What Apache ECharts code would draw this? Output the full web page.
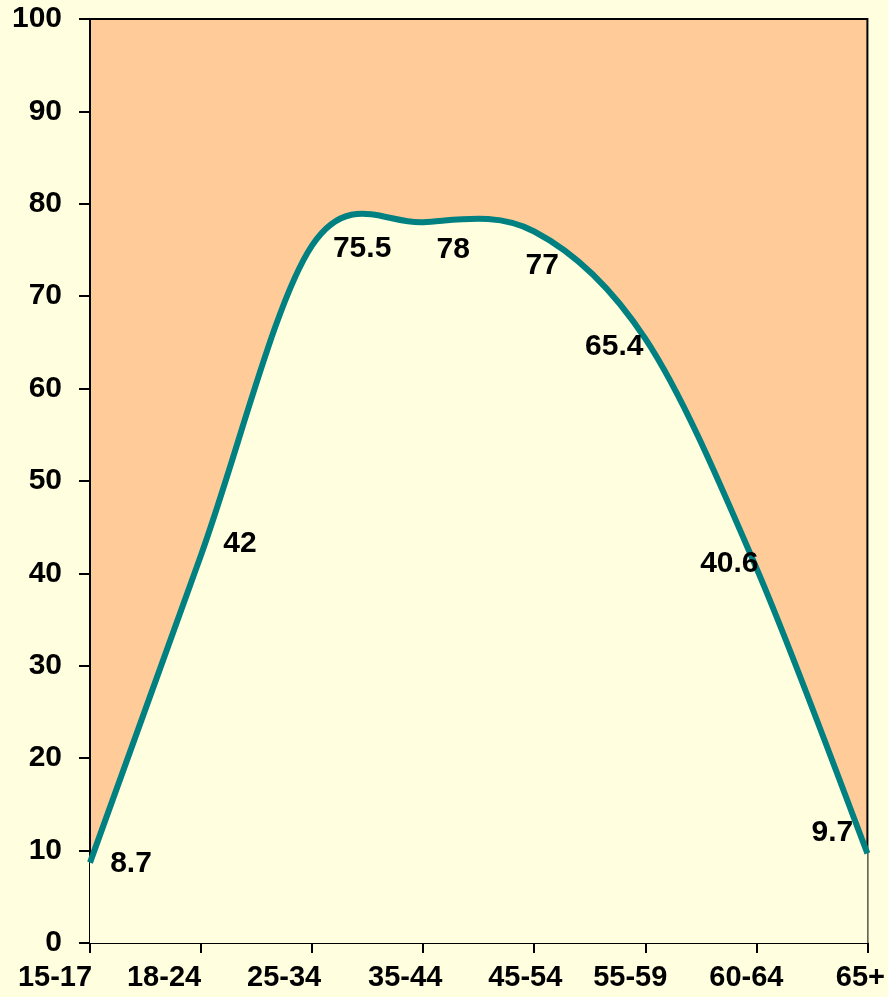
<!DOCTYPE html>
<html>
<head>
<meta charset="utf-8">
<script src="https://cdn.jsdelivr.net/npm/echarts@6/dist/echarts.min.js"></script>
<style>
  html, body { margin: 0; padding: 0; background: #FFFFE0; }
  #chart { width: 888px; height: 997px; }
</style>
</head>
<body>
<div id="chart"></div>
<script>
// Data
var categories = ['15-17', '18-24', '25-34', '35-44', '45-54', '55-59', '60-64', '65+'];
var values = [8.7, 42, 75.5, 78, 77, 65.4, 40.6, 9.7];
var yTicks = [0, 10, 20, 30, 40, 50, 60, 70, 80, 90, 100];

// Styling (label placement as in the original)
var labelOffsets = [[41, 1], [39, -11], [50, 3], [30, 27], [8, 34], [-31, 8], [-27, -4], [-35, -21]];
var xLabelShift = [35, 37, 28, 18, 9, 15, 10, 7];

var FONT = '"Liberation Sans", Arial, sans-serif';
var BG = '#FFFFE0';
var PEACH = '#FFCC99';
var TEAL = '#008080';

var rich = {};
xLabelShift.forEach(function (s, i) {
  rich['a' + i] = {
    fontFamily: FONT, fontSize: 29, fontWeight: 'bold', color: '#000',
    padding: [0, 2 * s, 0, 0]
  };
});

// Smooth curve (Catmull-Rom style, as the original spreadsheet draws it)
function curvePath(api) {
  var pts = values.map(function (v, i) { return api.coord([i, v]); });
  var n = pts.length;
  var d = 'M' + pts[0][0] + ',' + pts[0][1];
  for (var i = 0; i < n - 1; i++) {
    var p0 = pts[Math.max(i - 1, 0)];
    var p1 = pts[i];
    var p2 = pts[i + 1];
    var p3 = pts[Math.min(i + 2, n - 1)];
    var c1x = p1[0] + (p2[0] - p0[0]) / 6;
    var c1y = p1[1] + (p2[1] - p0[1]) / 6;
    var c2x = p2[0] - (p3[0] - p1[0]) / 6;
    var c2y = p2[1] - (p3[1] - p1[1]) / 6;
    d += ' C' + c1x + ',' + c1y + ' ' + c2x + ',' + c2y + ' ' + p2[0] + ',' + p2[1];
  }
  return { d: d, pts: pts };
}

var chart = echarts.init(document.getElementById('chart'), null, { renderer: 'canvas' });
chart.setOption({
  backgroundColor: BG,
  animation: false,
  grid: {
    left: 90, right: 20, top: 19, bottom: 54,
    show: true, backgroundColor: PEACH, borderColor: '#000', borderWidth: 2,
    containLabel: false
  },
  xAxis: {
    type: 'category',
    data: categories,
    boundaryGap: false,
    axisLine: { show: true, lineStyle: { color: '#000', width: 2 } },
    axisTick: { show: true, alignWithLabel: true, length: 10, lineStyle: { color: '#000', width: 2 } },
    axisLabel: {
      margin: 20,
      interval: 0,
      fontFamily: FONT, fontSize: 29, fontWeight: 'bold', color: '#000',
      formatter: function (val, idx) { return '{a' + idx + '|' + val + '}'; },
      rich: rich
    },
    splitLine: { show: false }
  },
  yAxis: {
    type: 'value',
    min: yTicks[0], max: yTicks[yTicks.length - 1], interval: 10,
    axisLine: { show: true, lineStyle: { color: '#000', width: 2 } },
    axisTick: { show: true, length: 11, lineStyle: { color: '#000', width: 2 } },
    axisLabel: { margin: 28, fontFamily: FONT, fontSize: 30, fontWeight: 'bold', color: '#000' },
    splitLine: { show: false }
  },
  series: [{
    type: 'custom',
    data: values,
    z: 2,
    silent: true,
    renderItem: function (params, api) {
      if (params.dataIndex !== 0) return null;
      var c = curvePath(api);
      var pts = c.pts;
      var base0 = api.coord([0, 0]);
      var baseN = api.coord([pts.length - 1, 0]);
      var area = c.d + ' L' + baseN[0] + ',' + baseN[1] + ' L' + base0[0] + ',' + base0[1] + ' Z';
      return {
        type: 'group',
        children: [
          { type: 'path', shape: { pathData: area }, style: { fill: BG, stroke: null } },
          { type: 'path', shape: { pathData: c.d }, style: { fill: null, stroke: TEAL, lineWidth: 6, lineJoin: 'round' } }
        ]
      };
    }
  }, {
    type: 'line',
    data: values.map(function (v, i) {
      return { value: v, label: { offset: labelOffsets[i] } };
    }),
    symbol: 'circle',
    symbolSize: 1,
    showSymbol: true,
    itemStyle: { color: 'rgba(0,0,0,0)' },
    lineStyle: { width: 0, opacity: 0 },
    label: {
      show: true,
      position: 'inside',
      fontFamily: FONT, fontSize: 30, fontWeight: 'bold', color: '#000'
    },
    z: 3
  }]
});
</script>
</body>
</html>
